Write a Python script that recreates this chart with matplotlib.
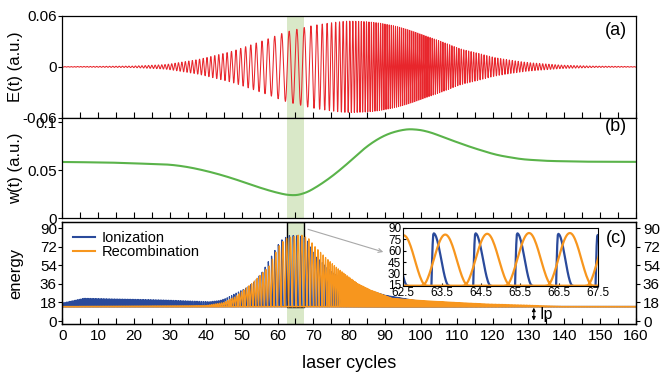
import numpy as np
import matplotlib
matplotlib.use('Agg')
import matplotlib.pyplot as plt
from matplotlib.patches import Rectangle

plt.rcParams.update({
    'font.family': ['Liberation Sans', 'DejaVu Sans'],
    'font.size': 11,
    'axes.linewidth': 0.9,
    'xtick.major.width': 0.8,
    'ytick.major.width': 0.8,
})

# ---------------------------------------------------------------------------
# values
# ---------------------------------------------------------------------------
# (b) instantaneous frequency w(t), a.u.
W_CYCLES = [0, 13, 30, 35, 40, 45, 50, 55, 60, 64, 67, 70, 75, 80, 85, 90, 95,
            98, 102, 108, 114, 121, 128, 135, 145, 160]
W_VALUES = [0.0587, 0.0581, 0.0560, 0.0535, 0.0495, 0.0445, 0.0385, 0.0320,
            0.0265, 0.0235, 0.0250, 0.0305, 0.0430, 0.0585, 0.0755, 0.0870,
            0.0925, 0.0930, 0.0905, 0.0820, 0.0740, 0.0660, 0.0615, 0.0598,
            0.0590, 0.0588]

# (a) field envelope, a.u.
ENV_CYCLES = [0, 10, 20, 29, 38, 47.5, 56.7, 62.2, 70, 75, 79, 84, 88, 93, 97,
              106.5, 111, 116, 120.4, 125, 129.6, 139, 148, 160]
ENV_VALUES = [0.0003, 0.0005, 0.0009, 0.0027, 0.0087, 0.0185, 0.032, 0.041,
              0.049, 0.052, 0.054, 0.0535, 0.052, 0.048, 0.043, 0.0286, 0.021,
              0.016, 0.011, 0.0078, 0.0051, 0.002, 0.0008, 0.0003]

# (c) peak energies of the ionization / recombination bursts
ION_CYCLES = [0, 6, 27, 41, 44, 45.6, 48.4, 51.2, 53.5, 55.8, 57.6, 60.8, 63,
              66, 68, 71, 75, 80, 90, 100, 115, 130, 160]
ION_PEAKS = [17.5, 22, 20.5, 18.7, 20, 22, 27, 32, 38, 48, 59, 78, 83, 83, 80,
             62, 48, 36, 25, 19, 15.5, 14, 14]
REC_CYCLES = [0, 40, 45, 48.4, 53, 57.6, 60.2, 62.2, 66.4, 68.7, 70.5, 73.3,
              76.1, 79, 82.5, 86, 92, 101, 110, 119, 129, 140, 160]
REC_PEAKS = [14, 15, 18, 24, 37, 53, 72, 80, 84, 80, 72, 62, 53, 45, 36, 30,
             22, 19.7, 18, 16.5, 15.5, 14, 14]
IP = 14.0

W_REF = 0.052          # frequency that defines one laser cycle
FIRST_BURST = 63.24    # ionization burst seen in the inset

RED = '#e8262c'
GREEN = '#5ab34a'
BAND = '#d9e8c8'
BLUE = '#2a4a9b'
ORANGE = '#f7961e'


def smooth(y, n):
    k = np.ones(n) / n
    pad = np.concatenate([np.full(n, y[0]), y, np.full(n, y[-1])])
    return np.convolve(pad, k, mode='same')[n:-n]


t = np.linspace(0, 160, 40001)
dt = t[1] - t[0]
w = smooth(np.interp(t, W_CYCLES, W_VALUES), 1200)
env = smooth(np.interp(t, ENV_CYCLES, ENV_VALUES), 800)

phase = 2 * np.pi * np.cumsum(w / W_REF) * dt
phase -= np.interp(FIRST_BURST, t, phase)
field = env * np.cos(phase)

# burst times: field maxima |E|
n = phase / np.pi
ks = np.arange(int(np.ceil(n[0])) - 2, int(np.floor(n[-1])) + 1)
tk = np.interp(ks, n, t, left=np.nan, right=np.nan)
th = np.diff(tk)
th = np.append(th, th[-1])
ok = ~np.isnan(tk)
tk, th = tk[ok], th[ok]
th[np.isnan(th)] = np.nanmean(th[-5:])

ion_x, ion_y, rec_x, rec_y = [], [], [], []
for t0, h in zip(tk, th):
    # ionization burst
    d = 0.42 * h
    u = np.linspace(0, 1, 30)
    f = np.where(u < 0.12, np.sin(0.5 * np.pi * u / 0.12),
                 np.cos(0.5 * np.pi * (u - 0.12) / 0.88) ** 2)
    hb = np.interp(t0, ION_CYCLES, ION_PEAKS)
    ion_x += list(t0 + u * d) + [np.nan]
    ion_y += list(IP + (hb - IP) * f) + [np.nan]
    # recombination hump
    s = t0 + 0.77 * h
    d = 1.13 * h
    u = np.linspace(0, 1, 50)
    hr = np.interp(s + 0.5 * d, REC_CYCLES, REC_PEAKS)
    rec_x += list(s + u * d) + [np.nan]
    rec_y += list(IP + (hr - IP) * np.sin(np.pi * u) ** 2) + [np.nan]

ion_x, ion_y = np.array(ion_x), np.array(ion_y)
rec_x, rec_y = np.array(rec_x), np.array(rec_y)

# ---------------------------------------------------------------------------
fig = plt.figure(figsize=(6.72, 3.76), dpi=100)
L, W = 0.093, 0.8534
ax1 = fig.add_axes([L, 0.687, W, 0.2705])
ax2 = fig.add_axes([L, 0.419, W, 0.268])
ax3 = fig.add_axes([L, 0.138, W, 0.2713])

for ax in (ax1, ax2, ax3):
    ax.set_xlim(0, 160)
    ax.set_xticks(np.arange(0, 161, 5))
    ax.tick_params(axis='x', direction='in', length=4, top=False)
    ax.tick_params(axis='y', direction='out', length=3, pad=1)
    ax.axvspan(62.5, 67.5, color=BAND, lw=0, zorder=0)
ax1.tick_params(axis='x', labelbottom=False)
ax2.tick_params(axis='x', labelbottom=False)
ax3.set_xticklabels([str(v) if v % 10 == 0 else '' for v in range(0, 161, 5)])

# (a)
ax1.plot(t, field, color=RED, lw=0.75)
ax1.set_ylim(-0.06, 0.06)
ax1.set_yticks([-0.06, 0, 0.06])
ax1.set_yticklabels(['-0.06', '0', '0.06'])
ax1.set_ylabel('E(t) (a.u.)', fontsize=12)
ax1.yaxis.set_label_coords(-0.069, 0.5)
ax1.text(0.984, 0.855, '(a)', transform=ax1.transAxes, ha='right',
         va='center', fontsize=13)

# (b)
ax2.plot(t, w, color=GREEN, lw=1.5)
ax2.set_ylim(0, 0.1047)
ax2.set_yticks([0, 0.05, 0.1])
ax2.set_yticklabels(['0', '0.05', '0.1'])
ax2.set_ylabel('w(t) (a.u.)', fontsize=12)
ax2.yaxis.set_label_coords(-0.069, 0.5)
ax2.text(0.984, 0.915, '(b)', transform=ax2.transAxes, ha='right',
         va='center', fontsize=13)

# (c)
ax3.plot(t, np.full_like(t, IP), color=BLUE, lw=1.0)
ax3.plot(ion_x, ion_y, color=BLUE, lw=0.9, label='Ionization')
ax3.plot(t, np.full_like(t, IP), color=ORANGE, lw=1.0)
ax3.plot(rec_x, rec_y, color=ORANGE, lw=0.9, label='Recombination')
ax3.add_patch(Rectangle((62.5, IP), 5, 96 - IP, fill=False, ec='black',
                        lw=1.0, zorder=1))
ax3.set_ylim(-3, 96)
ax3.set_yticks([0, 18, 36, 54, 72, 90])
ax3.set_ylabel('energy', fontsize=12)
ax3.yaxis.set_label_coords(-0.069, 0.5)
ax3.set_xlabel('laser cycles', fontsize=13, labelpad=9)
ax3.text(0.984, 0.835, '(c)', transform=ax3.transAxes, ha='right',
         va='center', fontsize=13)
ax3r = ax3.twinx()
ax3r.set_ylim(ax3.get_ylim())
ax3r.set_yticks([0, 18, 36, 54, 72, 90])
ax3r.tick_params(axis='y', direction='out', length=3, pad=2)

leg = ax3.legend(loc='upper left', bbox_to_anchor=(0.0, 1.01),
                 frameon=False, fontsize=10.5, handlelength=1.5,
                 labelspacing=0.0, handletextpad=0.5, borderaxespad=0.3)
for line in leg.get_lines():
    line.set_linewidth(1.5)

ax3.annotate('', xy=(89.5, 67), xytext=(68.5, 89),
             arrowprops=dict(arrowstyle='->', color='#a8a8a8', lw=0.8,
                             mutation_scale=7, shrinkA=0, shrinkB=0))
ax3.annotate('', xy=(131.5, 0.5), xytext=(131.5, 13),
             arrowprops=dict(arrowstyle='<|-|>', color='black', lw=0.8,
                             mutation_scale=5, shrinkA=0, shrinkB=0))
ax3.text(133.2, 6.5, 'Ip', fontsize=11.5, va='center', ha='left')

# inset
axi = fig.add_axes([0.599, 0.2402, 0.2906, 0.1535])
axi.plot(ion_x, ion_y, color=BLUE, lw=1.6)
axi.plot(t, np.full_like(t, IP), color=ORANGE, lw=1.6)
axi.plot(rec_x, rec_y, color=ORANGE, lw=1.6)
axi.set_xlim(62.5, 67.5)
axi.set_ylim(14, 90)
axi.set_xticks([62.5, 63.5, 64.5, 65.5, 66.5, 67.5])
axi.set_yticks([15, 30, 45, 60, 75, 90])
axi.tick_params(direction='in', length=2.5, labelsize=8.5, pad=1)
for sp in axi.spines.values():
    sp.set_linewidth(0.8)

fig.savefig('out.png', dpi=100)
